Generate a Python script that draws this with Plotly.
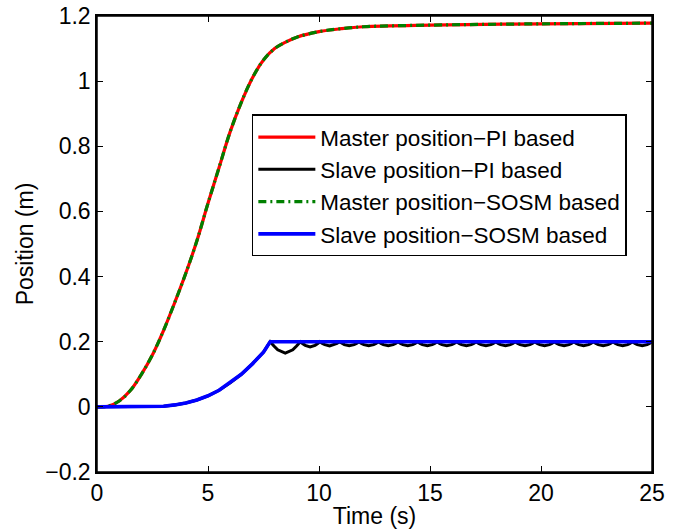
import plotly.graph_objects as go

# ---- data ----
master_t = [0, 0.5, 1.0, 1.5, 2.0, 2.5, 3.0, 3.5, 4.0, 4.5, 5.0, 5.5, 6.0, 6.5, 7.0,
            7.5, 8.0, 8.5, 9.0, 10.0, 11.0, 12.0, 15.0, 20.0, 25.0]
master_v = [0, 0.002, 0.018, 0.05, 0.10, 0.16, 0.235, 0.32, 0.41, 0.51, 0.625, 0.735, 0.845,
            0.935, 1.01, 1.065, 1.10, 1.12, 1.135, 1.152, 1.161, 1.167, 1.172, 1.176, 1.178]

rise_t = [0, 2.5, 3.0, 3.5, 4.0, 4.5, 5.0, 5.5, 6.0, 6.5, 7.0, 7.5, 7.8]
rise_v = [0, 0, 0.002, 0.006, 0.012, 0.021, 0.034, 0.051, 0.074, 0.100, 0.132, 0.168, 0.2]

# PI slave ripple after reaching 0.2 (cusp / quarter / dip / quarter ...)
ripple_t = [7.97, 8.14, 8.48, 8.82, 8.99, 9.16,
            9.27, 9.38, 9.60, 9.82, 9.93, 10.04,
            10.15, 10.26, 10.48, 10.70, 10.81, 10.92,
            11.03, 11.14, 11.36, 11.58, 11.69, 11.80,
            11.91, 12.02, 12.24, 12.46, 12.57, 12.68,
            12.79, 12.90, 13.12, 13.34, 13.45, 13.56,
            13.67, 13.78, 14.00, 14.22, 14.33, 14.44,
            14.55, 14.66, 14.88, 15.10, 15.21, 15.32,
            15.43, 15.54, 15.76, 15.98, 16.09, 16.20,
            16.31, 16.42, 16.64, 16.86, 16.97, 17.08,
            17.19, 17.30, 17.52, 17.74, 17.85, 17.96,
            18.07, 18.18, 18.40, 18.62, 18.73, 18.84,
            18.95, 19.06, 19.28, 19.50, 19.61, 19.72,
            19.83, 19.94, 20.16, 20.38, 20.49, 20.60,
            20.71, 20.82, 21.04, 21.26, 21.37, 21.48,
            21.59, 21.70, 21.92, 22.14, 22.25, 22.36,
            22.47, 22.58, 22.80, 23.02, 23.13, 23.24,
            23.35, 23.46, 23.68, 23.90, 24.01, 24.12,
            24.23, 24.34, 24.56, 24.78, 24.89, 25.00]
ripple_v = [0.187, 0.175, 0.165, 0.175, 0.187, 0.200,
            0.194, 0.189, 0.184, 0.189, 0.194, 0.200,
            0.195, 0.191, 0.187, 0.191, 0.195, 0.200,
            0.195, 0.191, 0.188, 0.191, 0.195, 0.200,
            0.195, 0.191, 0.188, 0.191, 0.195, 0.200,
            0.195, 0.191, 0.188, 0.191, 0.195, 0.200,
            0.195, 0.191, 0.188, 0.191, 0.195, 0.200,
            0.195, 0.191, 0.188, 0.191, 0.195, 0.200,
            0.195, 0.191, 0.188, 0.191, 0.195, 0.200,
            0.195, 0.191, 0.188, 0.191, 0.195, 0.200,
            0.195, 0.191, 0.188, 0.191, 0.195, 0.200,
            0.195, 0.191, 0.188, 0.191, 0.195, 0.200,
            0.195, 0.191, 0.188, 0.191, 0.195, 0.200,
            0.195, 0.191, 0.188, 0.191, 0.195, 0.200,
            0.195, 0.191, 0.188, 0.191, 0.195, 0.200,
            0.195, 0.191, 0.188, 0.191, 0.195, 0.200,
            0.195, 0.191, 0.188, 0.191, 0.195, 0.200,
            0.195, 0.191, 0.188, 0.191, 0.195, 0.200,
            0.195, 0.191, 0.188, 0.191, 0.195, 0.200]

sosm_hold_t = [25.0]
sosm_hold_v = [0.2]

x_ticks = [0, 5, 10, 15, 20, 25]
y_ticks = [-0.2, 0, 0.2, 0.4, 0.6, 0.8, 1, 1.2]
y_tick_text = ["\u22120.2", "0", "0.2", "0.4", "0.6", "0.8", "1", "1.2"]

names = ["Master position\u2212PI based", "Slave position\u2212PI based",
         "Master position\u2212SOSM based", "Slave position\u2212SOSM based"]

FONT = "Liberation Sans, Arial, sans-serif"
FS = 23
FS_LEG = 22.5

fig = go.Figure()
fig.add_trace(go.Scatter(x=master_t, y=master_v, mode="lines", name=names[0],
                         line=dict(color="#ff0000", width=3.2, shape="spline", smoothing=1)))
fig.add_trace(go.Scatter(x=rise_t + ripple_t, y=rise_v + ripple_v, mode="lines", name=names[1],
                         line=dict(color="#000000", width=3.0)))
fig.add_trace(go.Scatter(x=master_t, y=master_v, mode="lines", name=names[2],
                         line=dict(color="#008000", width=3.2, shape="spline", smoothing=1,
                                   dash="8px,4px,2px,4px")))
fig.add_trace(go.Scatter(x=rise_t + sosm_hold_t, y=rise_v + sosm_hold_v, mode="lines", name=names[3],
                         line=dict(color="#0000ff", width=3.6)))

axis_common = dict(showgrid=False, zeroline=False, showline=True, linecolor="black",
                   linewidth=1.5, mirror="ticks", ticks="inside", ticklen=6, tickwidth=1,
                   tickcolor="black", automargin=False,
                   tickfont=dict(family=FONT, size=FS, color="black"))

fig.update_layout(
    width=685, height=529,
    margin=dict(l=97, r=33, t=16, b=57),
    paper_bgcolor="white", plot_bgcolor="white",
    font=dict(family=FONT, size=FS, color="black"),
    xaxis=dict(range=[0, 25], tickvals=x_ticks, **axis_common,
               title=dict(text="Time (s)", font=dict(family=FONT, size=FS), standoff=4)),
    yaxis=dict(range=[-0.2, 1.2], tickvals=y_ticks, ticktext=y_tick_text, **axis_common,
               title=dict(text="Position (m)", font=dict(family=FONT, size=FS), standoff=5)),
    legend=dict(x=0.279, y=0.784, xanchor="left", yanchor="top", bgcolor="white",
                bordercolor="black", borderwidth=1.5, itemwidth=57,
                font=dict(family=FONT, size=FS_LEG, color="black"), tracegroupgap=0),
    showlegend=True,
    shapes=[dict(type="rect", xref="paper", yref="paper", x0=0, y0=0, x1=1, y1=1,
                 line=dict(color="black", width=1.5), layer="above")],
)

fig.write_html("out.html", config={"displayModeBar": False},
               post_script="document.body.style.margin='0';document.body.style.overflow='hidden';")
